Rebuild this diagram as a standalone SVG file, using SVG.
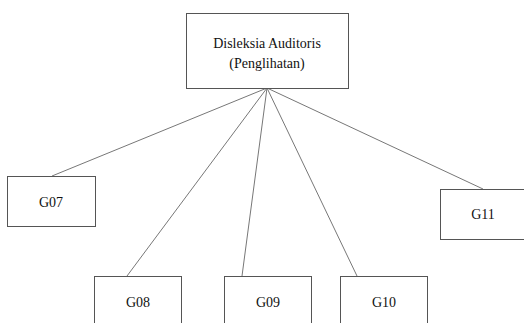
<svg xmlns="http://www.w3.org/2000/svg" width="524" height="323" viewBox="0 0 524 323">
<style>
.box{fill:#fff;stroke:#555;stroke-width:1}
.t{font-family:"Liberation Serif","Times New Roman",serif;font-size:14px;fill:#111;text-anchor:middle}
.c line{stroke:#777;stroke-width:1}
</style>
<rect width="524" height="323" fill="#fff"/>
<g class="c" id="connectors">
<line x1="267" y1="88" x2="52" y2="176"/>
<line x1="267" y1="88" x2="127" y2="276"/>
<line x1="267" y1="88" x2="242" y2="276"/>
<line x1="267" y1="88" x2="357" y2="276"/>
<line x1="267" y1="88" x2="483" y2="189"/>
</g>
<g id="root">
<rect class="box" x="186.5" y="13.5" width="162" height="75"/>
<text class="t" x="267" y="48">Disleksia Auditoris</text>
<text class="t" x="267" y="68">(Penglihatan)</text>
</g>
<g id="g07">
<rect class="box" x="7.5" y="176.5" width="88" height="50"/>
<text class="t" x="51" y="207">G07</text>
</g>
<g id="g11">
<rect class="box" x="440.5" y="189.5" width="90" height="50"/>
<text class="t" x="483" y="219">G11</text>
</g>
<g id="g08">
<rect class="box" x="94.5" y="276.5" width="87" height="60"/>
<text class="t" x="138" y="307">G08</text>
</g>
<g id="g09">
<rect class="box" x="224.5" y="276.5" width="87" height="60"/>
<text class="t" x="268" y="307">G09</text>
</g>
<g id="g10">
<rect class="box" x="340.5" y="276.5" width="87" height="60"/>
<text class="t" x="384" y="307">G10</text>
</g>
</svg>
